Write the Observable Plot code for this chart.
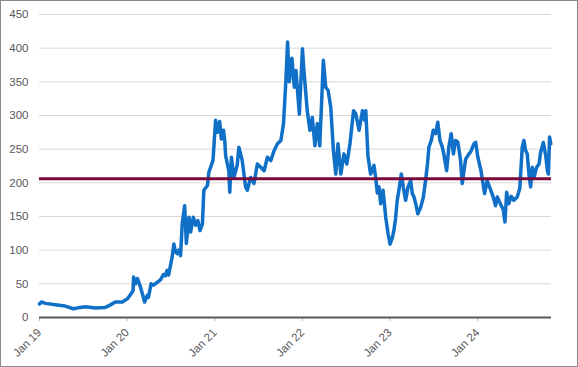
<!DOCTYPE html>
<html><head><meta charset="utf-8">
<script src="https://cdn.jsdelivr.net/npm/d3@7"></script>
<script src="https://cdn.jsdelivr.net/npm/@observablehq/plot@0.6"></script>
<style>
body{margin:0;background:#fff}
#chart{width:576px;height:365px;border:1px solid #8a8a8a;background:#fff;overflow:hidden}
#chart svg{display:block}
</style></head><body><div id="chart"></div>
<script>
const dates = [
"2019-01-01","2019-01-09","2019-01-26","2019-03-08","2019-04-18","2019-05-22","2019-06-20","2019-07-11","2019-08-22","2019-10-02","2019-10-20","2019-11-13","2019-12-12",
"2020-01-03","2020-01-19","2020-01-26","2020-01-28","2020-02-05","2020-02-13","2020-02-26","2020-03-05","2020-03-14","2020-03-25","2020-03-30","2020-04-10","2020-04-20","2020-05-05","2020-05-19","2020-06-01","2020-06-09","2020-06-16","2020-06-22","2020-07-07","2020-07-14","2020-07-21","2020-07-28","2020-08-03","2020-08-11","2020-08-18","2020-08-28","2020-09-04","2020-09-15","2020-09-22","2020-10-03","2020-10-13","2020-10-22","2020-10-31","2020-11-10","2020-11-16","2020-12-01","2020-12-07","2020-12-17","2020-12-24",
"2021-01-04","2021-01-11","2021-01-21","2021-01-28","2021-02-06","2021-02-11","2021-02-15","2021-02-22","2021-02-28","2021-03-04","2021-03-11","2021-03-21","2021-04-04","2021-04-11","2021-04-25","2021-05-09","2021-05-16","2021-05-30","2021-06-13","2021-06-27","2021-07-11","2021-07-25","2021-08-08","2021-08-22","2021-09-05","2021-09-19","2021-10-03","2021-10-14","2021-10-24","2021-10-31","2021-11-07","2021-11-18","2021-11-28","2021-12-05","2021-12-19",
"2022-01-01","2022-01-07","2022-01-21","2022-02-01","2022-02-11","2022-02-22","2022-03-04","2022-03-14","2022-03-21","2022-03-29","2022-04-08","2022-04-18","2022-04-29","2022-05-10","2022-05-20","2022-05-29","2022-06-10","2022-06-23","2022-07-05","2022-07-18","2022-08-02","2022-08-11","2022-08-25","2022-09-08","2022-09-17","2022-09-22","2022-10-01","2022-10-12","2022-10-26","2022-11-02","2022-11-09","2022-11-16","2022-11-23","2022-12-03","2022-12-14","2022-12-24",
"2023-01-01","2023-01-11","2023-01-17","2023-01-24","2023-01-31","2023-02-07","2023-02-17","2023-02-25","2023-03-07","2023-03-17","2023-03-28","2023-04-04","2023-04-11","2023-04-18","2023-04-27","2023-05-09","2023-05-20","2023-05-29","2023-06-06","2023-06-12","2023-06-22","2023-06-30","2023-07-10","2023-07-19","2023-07-28","2023-08-07","2023-08-13","2023-08-25","2023-09-03","2023-09-13","2023-09-22","2023-10-01","2023-10-11","2023-10-22","2023-10-29","2023-11-12","2023-11-26","2023-12-03","2023-12-17","2023-12-24",
"2024-01-02","2024-01-14","2024-01-21","2024-01-30","2024-02-10","2024-02-24","2024-03-06","2024-03-16","2024-03-23","2024-04-06","2024-04-17","2024-04-24","2024-05-01","2024-05-10","2024-05-20","2024-05-31","2024-06-14","2024-06-25","2024-07-05","2024-07-12","2024-07-19","2024-07-26","2024-08-02","2024-08-09","2024-08-16","2024-08-23","2024-09-03","2024-09-13","2024-09-20","2024-10-01","2024-10-11","2024-10-18","2024-10-22","2024-10-27","2024-11-01"
];
const values = [
20,23,21,19,17,13,15,16,14,15,18,23,23,
28,36,40,60,50,58,45,35,23,33,30,50,48,52,56,64,62,70,63,90,109,98,95,100,92,140,166,110,149,127,149,137,144,129,139,189,196,216,226,233,
293,275,291,265,278,263,240,228,218,186,238,208,226,253,233,194,189,208,199,228,223,218,238,233,248,258,263,288,352,409,350,385,342,367,302,
399,367,307,278,297,255,288,255,312,382,342,337,312,248,213,258,213,243,228,258,307,303,278,307,293,307,240,213,226,208,185,194,169,189,149,124,
109,119,129,147,174,189,213,194,174,194,203,184,179,169,154,164,179,203,228,253,263,278,273,290,263,253,243,218,253,273,243,263,260,233,199,235,243,246,258,260,
238,220,205,184,203,190,179,166,179,168,160,142,186,169,180,174,179,192,253,263,248,243,213,194,223,208,223,228,246,260,240,218,213,268,258
];
const yTicks = [0,50,100,150,200,250,300,350,400,450];
const xTickDates = ["2019-01-01","2020-01-01","2021-01-01","2022-01-01","2023-01-01","2024-01-01"];
const xTickLabels = ["Jan 19","Jan 20","Jan 21","Jan 22","Jan 23","Jan 24"];
const referenceLevel = 206;
const xDomain = ["2019-01-01","2024-11-04"];

const data = dates.map((d, i) => ({date: new Date(d), value: values[i]}));
const tickDates = xTickDates.map(d => new Date(d));
const labelByTime = new Map(tickDates.map((d, i) => [d.getTime(), xTickLabels[i]]));

const chart = Plot.plot({
  width: 576,
  height: 365,
  marginLeft: 38,
  marginRight: 26,
  marginTop: 13,
  marginBottom: 49,
  style: {fontFamily: "'Liberation Sans', Arial, sans-serif", fontSize: "11.5px", color: "#595959", background: "#fff"},
  x: {type: "utc", domain: xDomain.map(d => new Date(d))},
  y: {domain: [0, 450]},
  marks: [
    Plot.gridY(yTicks, {stroke: "#d9d9d9", strokeOpacity: 1}),
    Plot.axisY(yTicks, {tickSize: 0, tickPadding: 11, label: null, fill: "#595959"}),
    Plot.axisX(tickDates, {tickSize: 4, tickPadding: 9, tickRotate: -45, label: null, stroke: "#bfbfbf", fill: "#595959",
      tickFormat: d => labelByTime.get(d.getTime())}),
    Plot.line(data, {x: "date", y: "value", stroke: "#1070C8", strokeWidth: 3.5, strokeLinejoin: "round"}),
    Plot.ruleY([0], {stroke: "#595959", strokeWidth: 2}),
    Plot.ruleY([referenceLevel], {stroke: "#7A0A3B", strokeWidth: 3})
  ]
});
document.getElementById("chart").appendChild(chart);
</script>
</body></html>
